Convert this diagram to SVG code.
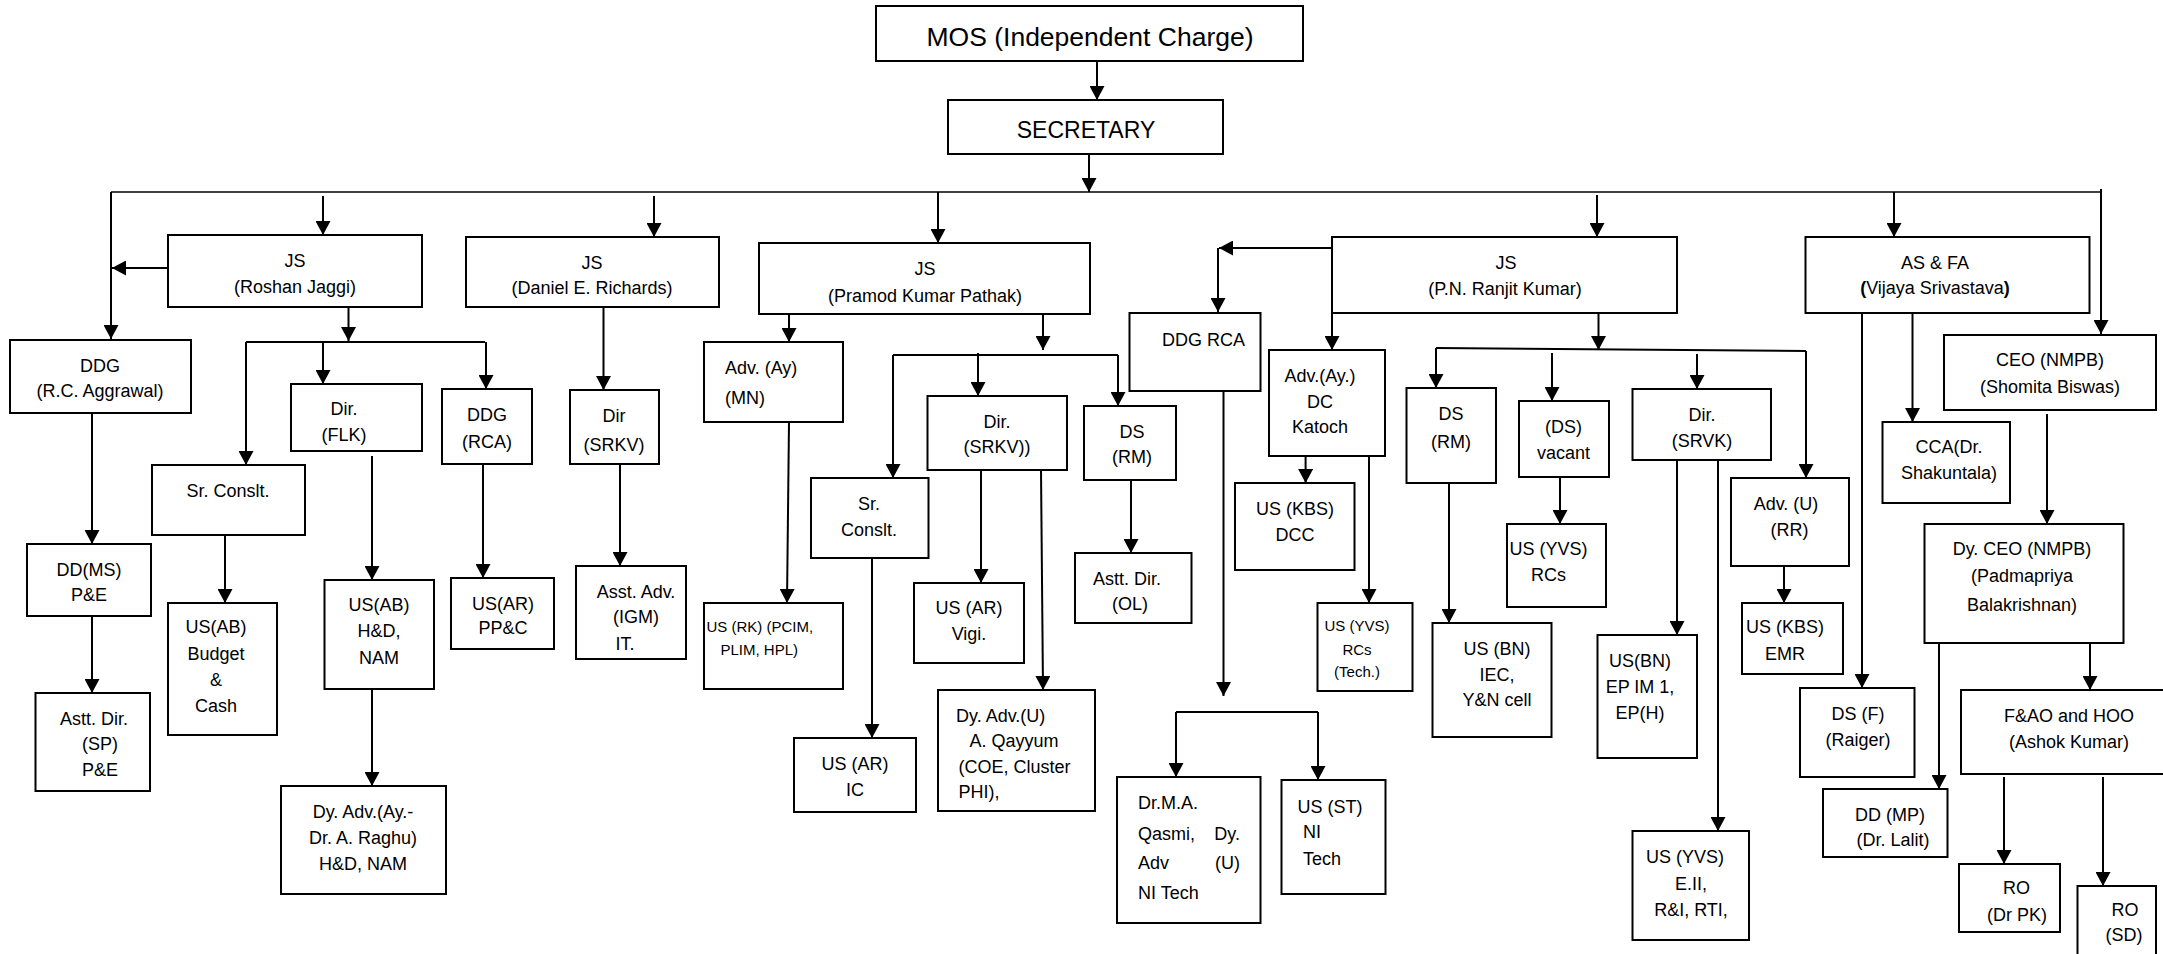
<svg xmlns="http://www.w3.org/2000/svg" width="2163" height="954" viewBox="0 0 2163 954">
<style>
.b{fill:#fff;stroke:#000;stroke-width:2}
.t{font-family:"Liberation Sans",Arial,sans-serif;font-size:18px;fill:#000}
.m{text-anchor:middle}
.s{font-size:15px}
.ln{fill:none;stroke:#000;stroke-width:2}
.bus{fill:none;stroke:#000;stroke-width:1.6}
.a{marker-end:url(#ah)}
</style>
<defs>
<marker id="ah" viewBox="0 0 14 15" markerWidth="14" markerHeight="15" refX="14" refY="7.5" orient="auto" markerUnits="userSpaceOnUse">
<path d="M0 0 L14 7.5 L0 15 Z" fill="#000"/>
</marker>
</defs>
<rect width="2163" height="954" fill="#fff"/>

<g id="connectors">
<path class="ln a" d="M1097 61 V100"/>
<path class="ln a" d="M1089 154 V192"/>
<path class="bus" d="M111 192 H2102"/>
<path class="ln a" d="M111 192 V339"/>
<path class="ln a" d="M2101 189 V334"/>
<path class="ln a" d="M323 196 V235"/>
<path class="ln a" d="M654 196 V237"/>
<path class="ln a" d="M938 192 V243"/>
<path class="ln a" d="M1597 195 V237"/>
<path class="ln a" d="M1894 192 V237"/>
<path class="ln a" d="M168 268 H112"/>
<path class="ln a" d="M348.5 307 V341"/>
<path class="ln" d="M246 342 H485"/>
<path class="ln a" d="M246 342 V465"/>
<path class="ln a" d="M323 342 V384"/>
<path class="ln a" d="M486 342 V389"/>
<path class="ln a" d="M92 413 V544"/>
<path class="ln a" d="M92 616 V693"/>
<path class="ln a" d="M225 535 V603"/>
<path class="ln a" d="M372 456 V580"/>
<path class="ln a" d="M372 689 V786"/>
<path class="ln a" d="M483 464 V578"/>
<path class="ln a" d="M603.5 307 V390"/>
<path class="ln a" d="M620 464 V566"/>
<path class="ln a" d="M789 314 V342"/>
<path class="ln a" d="M789 422 L787 603"/>
<path class="ln a" d="M1043 314 V350"/>
<path class="ln" d="M893 355 H1118"/>
<path class="ln a" d="M893 355 V478"/>
<path class="ln a" d="M978 353 V396"/>
<path class="ln a" d="M1118 355 V406"/>
<path class="ln a" d="M872 554 V738"/>
<path class="ln a" d="M981 470 V583"/>
<path class="ln a" d="M1041 470 L1043 690"/>
<path class="ln a" d="M1131 480 V553"/>
<path class="ln a" d="M1332 248 H1219"/>
<path class="ln a" d="M1218 248 V312"/>
<path class="ln a" d="M1223.5 391 V696"/>
<path class="ln" d="M1176 712 H1318"/>
<path class="ln a" d="M1176 712 V777"/>
<path class="ln a" d="M1318 712 V780"/>
<path class="ln a" d="M1332 313 V350"/>
<path class="ln a" d="M1305.6 456 V483"/>
<path class="ln a" d="M1369 456 V603"/>
<path class="ln a" d="M1598.5 313 V350"/>
<path class="ln" d="M1436 348 L1806 351"/>
<path class="ln a" d="M1436 348 V388"/>
<path class="ln a" d="M1552 353 V401"/>
<path class="ln a" d="M1697 354 V389"/>
<path class="ln a" d="M1806 351 V478"/>
<path class="ln a" d="M1449 480 V623"/>
<path class="ln a" d="M1560 477 V524"/>
<path class="ln a" d="M1677 460 V635"/>
<path class="ln a" d="M1718 456 V831"/>
<path class="ln a" d="M1784 566 V603"/>
<path class="ln a" d="M1862 313 V688"/>
<path class="ln a" d="M1912.5 313 V422"/>
<path class="ln a" d="M2047 414 V524"/>
<path class="ln a" d="M1939 643 V789"/>
<path class="ln a" d="M2090 643 V690"/>
<path class="ln a" d="M2004 777 V864"/>
<path class="ln a" d="M2103 777 V886"/>
</g>

<g id="mos"><rect class="b" x="876" y="6" width="427" height="55"/><text class="t m" x="1090" y="46" style="font-size:26.5px">MOS (Independent Charge)</text></g>
<g id="secretary"><rect class="b" x="948" y="100" width="275" height="54"/><text class="t m" x="1086" y="138" style="font-size:23px">SECRETARY</text></g>

<g id="js-roshan"><rect class="b" x="168" y="235" width="254" height="72"/><text class="t m" x="295" y="266.5">JS</text><text class="t m" x="295" y="292.5">(Roshan Jaggi)</text></g>
<g id="ddg-rc"><rect class="b" x="10" y="340" width="181" height="73"/><text class="t m" x="100" y="371.5">DDG</text><text class="t m" x="100" y="396.5">(R.C. Aggrawal)</text></g>
<g id="dd-ms"><rect class="b" x="27" y="544" width="124" height="72"/><text class="t m" x="89" y="575.5">DD(MS)</text><text class="t m" x="89" y="600.5">P&amp;E</text></g>
<g id="astt-sp"><rect class="b" x="35.5" y="693" width="114.5" height="98"/><text class="t m" x="94" y="724.5">Astt. Dir.</text><text class="t m" x="100" y="749.5">(SP)</text><text class="t m" x="100" y="775.5">P&amp;E</text></g>
<g id="sr-conslt-1"><rect class="b" x="152" y="465" width="153" height="70"/><text class="t m" x="228" y="496.5">Sr. Conslt.</text></g>
<g id="us-ab-budget"><rect class="b" x="168" y="603" width="109" height="132"/><text class="t m" x="216" y="632.5">US(AB)</text><text class="t m" x="216" y="659.5">Budget</text><text class="t m" x="216" y="685.5">&amp;</text><text class="t m" x="216" y="711.5">Cash</text></g>
<g id="dir-flk"><rect class="b" x="291" y="384" width="131" height="67"/><text class="t m" x="344" y="414.5">Dir.</text><text class="t m" x="344" y="440.5">(FLK)</text></g>
<g id="us-ab-hd"><rect class="b" x="324.5" y="580" width="109.5" height="109"/><text class="t m" x="379" y="610.5">US(AB)</text><text class="t m" x="379" y="636.5">H&amp;D,</text><text class="t m" x="379" y="663.5">NAM</text></g>
<g id="dy-adv-ay"><rect class="b" x="281" y="786" width="165" height="108"/><text class="t m" x="363" y="817.5">Dy. Adv.(Ay.-</text><text class="t m" x="363" y="843.5">Dr. A. Raghu)</text><text class="t m" x="363" y="869.5">H&amp;D, NAM</text></g>
<g id="ddg-rca-1"><rect class="b" x="442" y="389" width="90" height="75"/><text class="t m" x="487" y="420.5">DDG</text><text class="t m" x="487" y="447.5">(RCA)</text></g>
<g id="us-ar-ppc"><rect class="b" x="451" y="578" width="103" height="71"/><text class="t m" x="503" y="609.5">US(AR)</text><text class="t m" x="503" y="633.5">PP&amp;C</text></g>

<g id="js-daniel"><rect class="b" x="466" y="237" width="253" height="70"/><text class="t m" x="592" y="268.5">JS</text><text class="t m" x="592" y="293.5">(Daniel E. Richards)</text></g>
<g id="dir-srkv"><rect class="b" x="570" y="390" width="89" height="74"/><text class="t m" x="614" y="421.5">Dir</text><text class="t m" x="614" y="450.5">(SRKV)</text></g>
<g id="asst-adv"><rect class="b" x="576" y="566" width="110" height="93"/><text class="t m" x="636" y="597.5">Asst. Adv.</text><text class="t m" x="636" y="622.5">(IGM)</text><text class="t m" x="625" y="649.5">IT.</text></g>

<g id="js-pramod"><rect class="b" x="759" y="243" width="331" height="71"/><text class="t m" x="925" y="274.5">JS</text><text class="t m" x="925" y="301.5">(Pramod Kumar Pathak)</text></g>
<g id="adv-ay-mn"><rect class="b" x="704" y="342" width="139" height="80"/><text class="t" x="725" y="373.5">Adv. (Ay)</text><text class="t" x="725" y="403.5">(MN)</text></g>
<g id="us-rk"><rect class="b" x="704" y="603" width="139" height="86"/><text class="t s" x="706.5" y="631.5">US (RK) (PCIM,</text><text class="t s" x="720.5" y="654.5">PLIM, HPL)</text></g>
<g id="sr-conslt-2"><rect class="b" x="811" y="478" width="117.5" height="80"/><text class="t m" x="869" y="509.5">Sr.</text><text class="t m" x="869" y="535.5">Conslt.</text></g>
<g id="us-ar-ic"><rect class="b" x="794" y="738" width="122" height="74"/><text class="t m" x="855" y="769.5">US (AR)</text><text class="t m" x="855" y="795.5">IC</text></g>
<g id="dir-srkv-2"><rect class="b" x="927.5" y="396" width="139.5" height="74"/><text class="t m" x="997" y="427.5">Dir.</text><text class="t m" x="997" y="452.5">(SRKV))</text></g>
<g id="us-ar-vigi"><rect class="b" x="914" y="583" width="110" height="80"/><text class="t m" x="969" y="613.5">US (AR)</text><text class="t m" x="969" y="639.5">Vigi.</text></g>
<g id="dy-adv-u"><rect class="b" x="938" y="690" width="157" height="121"/><text class="t" x="956" y="721.5">Dy. Adv.(U)</text><text class="t" x="969.5" y="746.5">A. Qayyum</text><text class="t" x="958.5" y="772.5">(COE, Cluster</text><text class="t" x="958.5" y="797.5">PHI),</text></g>
<g id="ds-rm-1"><rect class="b" x="1084" y="406" width="92" height="74"/><text class="t m" x="1132" y="437.5">DS</text><text class="t m" x="1132" y="462.5">(RM)</text></g>
<g id="astt-ol"><rect class="b" x="1075" y="553" width="116.5" height="70"/><text class="t m" x="1127" y="584.5">Astt. Dir.</text><text class="t m" x="1130" y="609.5">(OL)</text></g>

<g id="ddg-rca-2"><rect class="b" x="1129.5" y="313" width="131" height="78"/><text class="t m" x="1203.5" y="345.5">DDG RCA</text></g>
<g id="qasmi"><rect class="b" x="1117" y="777" width="143.5" height="146"/><text class="t" x="1138" y="808.5">Dr.M.A.</text><text class="t" x="1138" y="839.5">Qasmi,</text><text class="t" x="1240" y="839.5" text-anchor="end">Dy.</text><text class="t" x="1138" y="868.5">Adv</text><text class="t" x="1240" y="868.5" text-anchor="end">(U)</text><text class="t" x="1138" y="898.5">NI Tech</text></g>
<g id="us-st"><rect class="b" x="1281.5" y="780" width="104" height="114"/><text class="t" x="1297.5" y="812.5">US (ST)</text><text class="t" x="1303" y="837.5">NI</text><text class="t" x="1303" y="864.5">Tech</text></g>

<g id="js-ranjit"><rect class="b" x="1332" y="237" width="345" height="76"/><text class="t m" x="1506" y="268.5">JS</text><text class="t m" x="1505" y="294.5">(P.N. Ranjit Kumar)</text></g>
<g id="katoch"><rect class="b" x="1269" y="350" width="116" height="106"/><text class="t m" x="1320" y="381.5">Adv.(Ay.)</text><text class="t m" x="1320" y="407.5">DC</text><text class="t m" x="1320" y="432.5">Katoch</text></g>
<g id="us-kbs-dcc"><rect class="b" x="1235" y="483" width="119.5" height="87"/><text class="t m" x="1295" y="514.5">US (KBS)</text><text class="t m" x="1295" y="540.5">DCC</text></g>
<g id="us-yvs-tech"><rect class="b" x="1317.5" y="603" width="95" height="88"/><text class="t m s" x="1357" y="630.5">US (YVS)</text><text class="t m s" x="1357" y="654.5">RCs</text><text class="t m s" x="1357" y="676.5">(Tech.)</text></g>
<g id="ds-rm-2"><rect class="b" x="1406.5" y="388" width="89.5" height="95"/><text class="t m" x="1451" y="419.5">DS</text><text class="t m" x="1451" y="447.5">(RM)</text></g>
<g id="us-bn-iec"><rect class="b" x="1432.5" y="623" width="119" height="114"/><text class="t m" x="1497" y="654.5">US (BN)</text><text class="t m" x="1497" y="680.5">IEC,</text><text class="t m" x="1497" y="705.5">Y&amp;N cell</text></g>
<g id="ds-vacant"><rect class="b" x="1519" y="401" width="90" height="76"/><text class="t m" x="1563.5" y="432.5">(DS)</text><text class="t m" x="1563.5" y="458.5">vacant</text></g>
<g id="us-yvs-rcs"><rect class="b" x="1507" y="524" width="99" height="83"/><text class="t m" x="1548.5" y="554.5">US (YVS)</text><text class="t m" x="1548.5" y="580.5">RCs</text></g>
<g id="dir-srvk"><rect class="b" x="1632.5" y="389" width="138.5" height="71"/><text class="t m" x="1702" y="420.5">Dir.</text><text class="t m" x="1702" y="446.5">(SRVK)</text></g>
<g id="us-bn-ep"><rect class="b" x="1597.5" y="635" width="99.5" height="123"/><text class="t m" x="1640" y="666.5">US(BN)</text><text class="t m" x="1640" y="692.5">EP IM 1,</text><text class="t m" x="1640" y="718.5">EP(H)</text></g>
<g id="us-yvs-e2"><rect class="b" x="1632.5" y="831" width="116.5" height="109"/><text class="t m" x="1685" y="862.5">US (YVS)</text><text class="t m" x="1691" y="889.5">E.II,</text><text class="t m" x="1691" y="915.5">R&amp;I, RTI,</text></g>
<g id="adv-u-rr"><rect class="b" x="1731" y="478" width="118" height="88"/><text class="t m" x="1786" y="509.5">Adv. (U)</text><text class="t m" x="1789.5" y="535.5">(RR)</text></g>
<g id="us-kbs-emr"><rect class="b" x="1742" y="603" width="101" height="71"/><text class="t m" x="1785" y="632.5">US (KBS)</text><text class="t m" x="1785" y="659.5">EMR</text></g>

<g id="as-fa"><rect class="b" x="1805.5" y="237" width="284" height="76"/><text class="t m" x="1935" y="268.5">AS &amp; FA</text><text class="t m" x="1935" y="293.5"><tspan font-weight="bold">(</tspan>Vijaya Srivastava<tspan font-weight="bold">)</tspan></text></g>
<g id="ds-f"><rect class="b" x="1800" y="688" width="114.5" height="89"/><text class="t m" x="1858" y="719.5">DS (F)</text><text class="t m" x="1858" y="745.5">(Raiger)</text></g>
<g id="cca"><rect class="b" x="1882.5" y="422" width="127.5" height="81"/><text class="t m" x="1949" y="452.5">CCA(Dr.</text><text class="t m" x="1949" y="478.5">Shakuntala)</text></g>
<g id="ceo-nmpb"><rect class="b" x="1944" y="335" width="212" height="75"/><text class="t m" x="2050" y="365.5">CEO (NMPB)</text><text class="t m" x="2050" y="392.5">(Shomita Biswas)</text></g>
<g id="dy-ceo"><rect class="b" x="1924.5" y="524" width="199" height="119"/><text class="t m" x="2022" y="554.5">Dy. CEO (NMPB)</text><text class="t m" x="2022" y="581.5">(Padmapriya</text><text class="t m" x="2022" y="610.5">Balakrishnan)</text></g>
<g id="dd-mp"><rect class="b" x="1823" y="789" width="124.5" height="68"/><text class="t m" x="1890" y="820.5">DD (MP)</text><text class="t m" x="1893" y="845.5">(Dr. Lalit)</text></g>
<g id="fao-hoo"><rect class="b" x="1961" y="690" width="216" height="84"/><text class="t m" x="2069" y="722">F&amp;AO and HOO</text><text class="t m" x="2069" y="748">(Ashok Kumar)</text></g>
<g id="ro-drpk"><rect class="b" x="1959" y="864" width="101" height="68"/><text class="t m" x="2016.5" y="894">RO</text><text class="t m" x="2017" y="921">(Dr PK)</text></g>
<g id="ro-sd"><rect class="b" x="2077.5" y="886" width="78.5" height="80"/><text class="t m" x="2125" y="916">RO</text><text class="t m" x="2124" y="941">(SD)</text></g>
</svg>
